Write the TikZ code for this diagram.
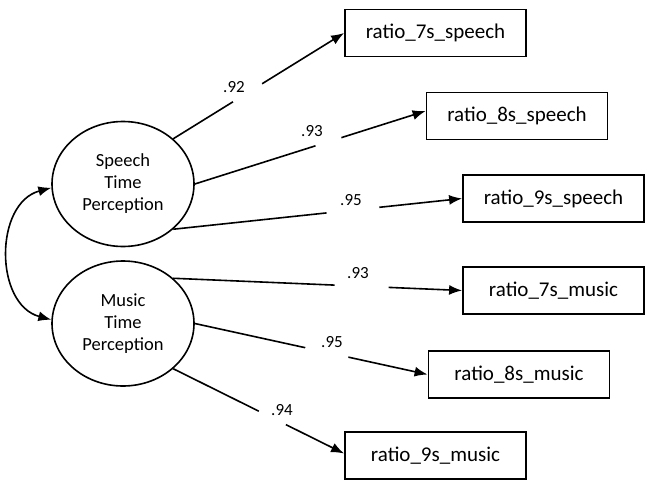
\documentclass[tikz,border=0pt]{standalone}
\usepackage{fontspec}
\setmainfont{Carlito}
\usetikzlibrary{arrows.meta,shapes.geometric}
\begin{document}
\begin{tikzpicture}[x=1pt,y=-1pt,
  latent/.style={ellipse,draw,line width=1.6pt,minimum width=142pt,minimum height=125pt,inner sep=0pt,align=center,font=\fontsize{18.5}{22}\selectfont},
  obs/.style={rectangle,draw,line width=1.8pt,minimum width=181pt,minimum height=47pt,inner sep=0pt,font=\fontsize{21}{24}\selectfont},
  arr/.style={line width=1.6pt,-{Latex[length=13pt,width=10pt]}},
  gap/.style={sloped,fill=white,minimum height=7pt,inner sep=0pt},
  lab/.style={font=\fontsize{17}{20}\selectfont,inner sep=0pt}]
\useasboundingbox (0,0) rectangle (653,490);
\node[latent] (sp) at (123,184) {Speech\\Time\\Perception};
\node[latent] (mu) at (123,323.5) {Music\\Time\\Perception};
\node[obs] (b1) at (435.5,33) {ratio\_7s\_speech};
\node[obs] (b2) at (517,116) {ratio\_8s\_speech};
\node[obs] (b3) at (553.5,198.5) {ratio\_9s\_speech};
\node[obs] (b4) at (553.5,290.5) {ratio\_7s\_music};
\node[obs] (b5) at (519,374.5) {ratio\_8s\_music};
\node[obs] (b6) at (435.5,455.5) {ratio\_9s\_music};
\draw[arr] (sp.42) -- (b1.west) node[gap,pos=.435,minimum width=34pt]{};
\draw[arr] (sp.0) -- ([yshift=5pt]b2.west) node[gap,pos=.579,minimum width=27pt]{};
\draw[arr] (sp.-42) -- (b3.west) node[gap,pos=.622,minimum width=53pt]{};
\draw[arr] (mu.42) -- (b4.west) node[gap,pos=.652,minimum width=54pt]{};
\draw[arr] (mu.0) -- (b5.west) node[gap,pos=.567,minimum width=44pt]{};
\draw[arr] (mu.-42) -- ([yshift=2pt]b6.west) node[gap,pos=.58,minimum width=30pt]{};
\node[lab] (l1) at (234,87) {.92};
\node[lab] (l2) at (312,131) {.93};
\node[lab] (l3) at (351,200) {.95};
\node[lab] (l4) at (358,273) {.93};
\node[lab] (l5) at (332,342) {.95};
\node[lab] (l6) at (282,410) {.94};
\draw[line width=1.6pt,{Latex[length=13pt,width=10pt]}-{Latex[length=13pt,width=10pt]}] (sp.183) to[out=195,in=165,looseness=1.15] (mu.177);
\end{tikzpicture}
\end{document}
